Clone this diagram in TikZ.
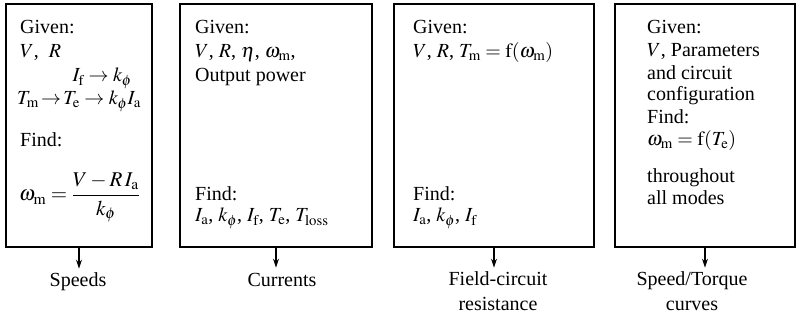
\documentclass[tikz,border=0pt]{standalone}
\usepackage{mathptmx}
\usepackage{fontspec}
\setmainfont{Liberation Serif}
\usetikzlibrary{arrows.meta}
\newcommand\sbr[1]{_{\mathrm{#1}}}
\begin{document}
\begin{tikzpicture}[x=1pt,y=-1pt,
  box/.style={draw, line width=1.2pt, inner sep=0pt, minimum height=243pt},
  txt/.style={anchor=base west, inner sep=0pt, font=\fontsize{20}{23}\selectfont},
  lbl/.style={anchor=base, inner sep=0pt, font=\fontsize{20}{23}\selectfont},
  arr/.style={-{Stealth[length=9pt,width=6pt]}, line width=1.2pt}]
\useasboundingbox (0,0) rectangle (797,320);
% boxes
\node[box, minimum width=146pt] (b1) at (79,125.5) {};
\node[box, minimum width=192pt] (b2) at (276,125.5) {};
\node[box, minimum width=200pt] (b3) at (494,125.5) {};
\node[box, minimum width=180pt] (b4) at (705,125.5) {};
% box 1
\node[txt] (t11) at (20,34) {Given:};
\node[txt] (t12) at (20,58) {$V$,\ \ $R$};
\node[txt, anchor=base east] (t13) at (132,82) {$I\sbr{f}\rightarrow k_{\phi}$};
\node[txt] (t14) at (17,105) {$T\sbr{m}\!\rightarrow\! T\sbr{e}\rightarrow k_{\phi}I\sbr{a}$};
\node[txt] (t15) at (20,147) {Find:};
\node[txt, font=\fontsize{21}{23}\selectfont] (t16) at (19,201) {$\omega\sbr{m}=\displaystyle\frac{V-R\,I\sbr{a}}{k_{\phi}}$};
% box 2
\node[txt] (t21) at (195,34) {Given:};
\node[txt] (t22) at (195,58) {$V$, $R$, $\eta$, $\omega\sbr{m}$,};
\node[txt] (t23) at (195,82) {Output power};
\node[txt] (t24) at (195,201) {Find:};
\node[txt] (t25) at (195,222) {$I\sbr{a}$, $k_{\phi}$, $I\sbr{f}$, $T\sbr{e}$, $T\sbr{loss}$};
% box 3
\node[txt] (t31) at (413,34) {Given:};
\node[txt] (t32) at (413,58) {$V$, $R$, $T\sbr{m}=\mathrm{f}(\omega\sbr{m})$};
\node[txt] (t33) at (413,201) {Find:};
\node[txt] (t34) at (413,222) {$I\sbr{a}$, $k_{\phi}$, $I\sbr{f}$};
% box 4
\node[txt] (t41) at (647,34) {Given:};
\node[txt] (t42) at (647,57) {$V$, Parameters};
\node[txt] (t43) at (647,80) {and circuit};
\node[txt] (t44) at (647,101) {configuration};
\node[txt] (t45) at (647,124) {Find:};
\node[txt] (t46) at (647,146) {$\omega\sbr{m}=\mathrm{f}(T\sbr{e})$};
\node[txt] (t47) at (647,183) {throughout};
\node[txt] (t48) at (647,205) {all modes};
% labels
\node[lbl] (l1) at (78,286) {Speeds};
\node[lbl] (l2) at (282,286) {Currents};
\node[lbl] (l3) at (498,285) {Field-circuit};
\node[lbl] (l3b) at (498,310) {resistance};
\node[lbl] (l4) at (692,285) {Speed/Torque};
\node[lbl] (l4b) at (692,310) {curves};
% arrows
\draw[arr] (b1.south) -- ++(0,21);
\draw[arr] (b2.south) -- ++(0,20);
\draw[arr] (b3.south) -- ++(0,20);
\draw[arr] (b4.south) -- ++(0,20);
\end{tikzpicture}
\end{document}
